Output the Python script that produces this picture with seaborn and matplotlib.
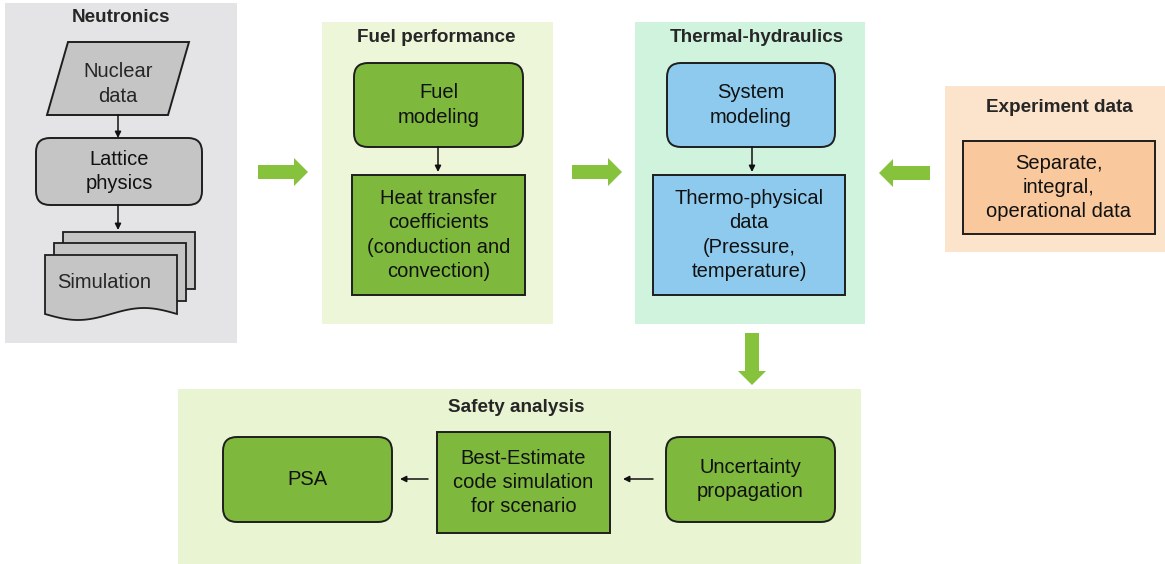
import numpy as np
import matplotlib
matplotlib.use("Agg")
import matplotlib.pyplot as plt
import seaborn as sns
from matplotlib.patches import FancyBboxPatch, Rectangle, Polygon, FancyArrow

# Texts of the diagram
panel_titles = ["Neutronics", "Fuel performance", "Thermal-hydraulics",
                "Experiment data", "Safety analysis"]
neutronics_labels = ["Nuclear\ndata", "Lattice\nphysics", "Simulation"]
fuel_labels = ["Fuel\nmodeling", "Heat transfer\ncoefficients\n(conduction and\nconvection)"]
thermal_labels = ["System\nmodeling", "Thermo-physical\ndata\n(Pressure,\ntemperature)"]
experiment_labels = ["Separate,\nintegral,\noperational data"]
safety_labels = ["PSA", "Best-Estimate\ncode simulation\nfor scenario", "Uncertainty\npropagation"]

# Colours
c_gray_bg = "#e4e4e6"
c_gray = "#c5c5c5"
c_fuel_bg = "#eef6da"
c_green = "#7eb83d"
c_th_bg = "#cff3dd"
c_blue = "#8dcaee"
c_exp_bg = "#fce3cb"
c_exp = "#f9c89c"
c_safe_bg = "#e9f5d2"
c_arrow = "#86c23c"
c_edge = "#1e1e1e"

sns.set_theme(style="white")
plt.rcParams['font.family'] = ['Liberation Sans', 'DejaVu Sans']

fig = plt.figure(figsize=(11.65, 5.64), dpi=100)
ax = fig.add_axes([0, 0, 1, 1])
ax.set_xlim(0, 1165)
ax.set_ylim(564, 0)
ax.axis("off")

FS = 14.5
TFS = 13.6
LS = 1.36


def panel(x0, y0, x1, y1, color):
    ax.add_patch(Rectangle((x0, y0), x1 - x0, y1 - y0, facecolor=color, edgecolor="none", zorder=0))


def rbox(x0, y0, x1, y1, color, text, r=14):
    ax.add_patch(FancyBboxPatch((x0, y0), x1 - x0, y1 - y0,
                                boxstyle=f"round,pad=0,rounding_size={r}",
                                facecolor=color, edgecolor=c_edge, lw=1.4, zorder=2))
    ax.text((x0 + x1) / 2, (y0 + y1) / 2, text, ha="center", va="center",
            fontsize=FS, color="#111111", linespacing=LS, zorder=3)


def sbox(x0, y0, x1, y1, color, text):
    ax.add_patch(Rectangle((x0, y0), x1 - x0, y1 - y0, facecolor=color,
                           edgecolor=c_edge, lw=1.4, zorder=2))
    ax.text((x0 + x1) / 2, (y0 + y1) / 2, text, ha="center", va="center",
            fontsize=FS, color="#111111", linespacing=LS, zorder=3)


def small_arrow(x0, y0, x1, y1):
    ax.annotate("", xy=(x1, y1), xytext=(x0, y0),
                arrowprops=dict(arrowstyle="-|>", color="#111111", lw=1.1,
                                mutation_scale=9, shrinkA=0, shrinkB=0), zorder=3)


def big_arrow(x0, y0, x1, y1):
    ax.add_patch(FancyArrow(x0, y0, x1 - x0, y1 - y0, width=14, head_width=28,
                            head_length=14, length_includes_head=True,
                            facecolor=c_arrow, edgecolor="none", zorder=1))


# ---------- Neutronics ----------
panel(5, 3, 237, 343, c_gray_bg)
ax.text(121, 17, panel_titles[0], ha="center", va="center", fontsize=TFS, fontweight="bold")
ax.add_patch(Polygon([(68, 42), (189, 42), (168, 115), (47, 115)], closed=True,
                     facecolor=c_gray, edgecolor=c_edge, lw=1.4, zorder=2))
ax.text(118, 84, neutronics_labels[0], ha="center", va="center", fontsize=FS,
        linespacing=LS, zorder=3)
small_arrow(118, 115, 118, 138)
rbox(36, 138, 202, 205, c_gray, neutronics_labels[1])
small_arrow(118, 205, 118, 230)
# multi-document shape
for (x0, y0, x1, y1) in [(63, 232, 195, 289), (54, 243, 186, 301)]:
    ax.add_patch(Rectangle((x0, y0), x1 - x0, y1 - y0, facecolor=c_gray,
                           edgecolor=c_edge, lw=1.3, zorder=2))
xs = np.linspace(45, 177, 60)
wave = 314 + 6 * np.sin((xs - 45) / 132 * 2 * np.pi)
pts = [(45, 255), (177, 255)] + list(zip(xs[::-1], wave[::-1]))
ax.add_patch(Polygon(pts, closed=True, facecolor=c_gray, edgecolor=c_edge, lw=1.3, zorder=2))
ax.text(104, 282, neutronics_labels[2], ha="center", va="center", fontsize=FS, zorder=3)

big_arrow(258, 172, 308, 172)

# ---------- Fuel performance ----------
panel(322, 22, 553, 324, c_fuel_bg)
ax.text(436, 38, panel_titles[1], ha="center", va="center", fontsize=TFS, fontweight="bold")
rbox(354, 63, 523, 147, c_green, fuel_labels[0])
small_arrow(438, 147, 438, 172)
sbox(352, 175, 525, 295, c_green, fuel_labels[1])

big_arrow(572, 172, 622, 172)

# ---------- Thermal-hydraulics ----------
panel(635, 22, 865, 324, c_th_bg)
ax.text(757, 38, panel_titles[2], ha="center", va="center", fontsize=TFS, fontweight="bold")
rbox(667, 63, 835, 147, c_blue, thermal_labels[0])
small_arrow(752, 147, 752, 172)
sbox(653, 175, 845, 295, c_blue, thermal_labels[1])

big_arrow(930, 173, 879, 173)

# ---------- Experiment data ----------
panel(945, 86, 1165, 252, c_exp_bg)
ax.text(1059, 108, panel_titles[3], ha="center", va="center", fontsize=TFS, fontweight="bold")
sbox(963, 141, 1155, 234, c_exp, experiment_labels[0])

big_arrow(752, 333, 752, 385)

# ---------- Safety analysis ----------
panel(178, 389, 861, 564, c_safe_bg)
ax.text(516, 408, panel_titles[4], ha="center", va="center", fontsize=TFS, fontweight="bold")
rbox(223, 437, 392, 522, c_green, safety_labels[0])
small_arrow(428, 479, 400, 479)
sbox(437, 432, 610, 533, c_green, safety_labels[1])
small_arrow(653, 479, 623, 479)
rbox(666, 437, 835, 522, c_green, safety_labels[2])

fig.savefig("out.png", dpi=100, facecolor="white")
